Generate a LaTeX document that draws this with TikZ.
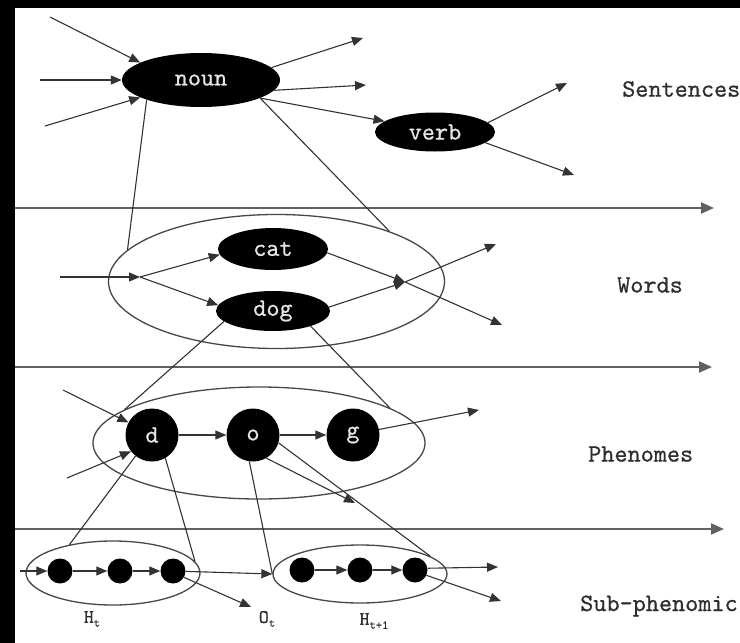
\documentclass[tikz,border=0pt]{standalone}
\usepackage{fontspec}
\usetikzlibrary{shapes.geometric,arrows.meta}
\newfontfamily\mono{lmmono10-regular.otf}[FakeBold=0.7]
\begin{document}
\begin{tikzpicture}[x=1pt,y=-1pt,
 blob/.style={ellipse, fill=black, text=white!90!black, font=\mono\fontsize{25}{25}\selectfont, inner sep=0pt},
 phon/.style={circle, fill=black, text=white!90!black, font=\mono\fontsize{25}{25}\selectfont, minimum size=53pt, inner sep=0pt},
 dotn/.style={circle, fill=black, minimum size=25pt, inner sep=0pt},
 grp/.style={ellipse, draw=black!72, line width=1.3pt, inner sep=0pt},
 conn/.style={draw=black!80, line width=1.1pt},
 arr/.style={conn, -{Triangle[length=11pt,width=9pt]}},
 axisln/.style={draw=black!62, line width=2.2pt, -{Triangle[length=13pt,width=11pt]}},
 lvl/.style={font=\mono\fontsize{25}{25}\selectfont, text=black!82, anchor=west, inner sep=0pt},
 sublbl/.style={font=\mono\fontsize{19}{19}\selectfont, text=black!82, inner sep=0pt},
]
\useasboundingbox (0,0) rectangle (740,643);
\fill[white] (0,0) rectangle (740,643);

% axes
\coordinate (ax1s) at (15,208); \coordinate (ax1e) at (714,208);
\coordinate (ax2s) at (15,367); \coordinate (ax2e) at (712,367);
\coordinate (ax3s) at (15,529); \coordinate (ax3e) at (724,529);
\draw[axisln] (ax1s) -- (ax1e);
\draw[axisln] (ax2s) -- (ax2e);
\draw[axisln] (ax3s) -- (ax3e);

% group ellipses
\node[grp, minimum width=336pt, minimum height=134pt] (words) at (276.5,281.5) {};
\node[grp, minimum width=332pt, minimum height=112pt] (phen) at (259,443) {};
\node[grp, minimum width=174pt, minimum height=64pt] (Ha) at (113,573) {};
\node[grp, minimum width=174pt, minimum height=58pt] (Hb) at (360,574) {};

% sentence level
\node[blob, minimum width=158pt, minimum height=54pt] (noun) at (201,80) {noun};
\node[blob, minimum width=120pt, minimum height=39pt] (verb) at (435,132) {verb};
% word level
\node[blob, minimum width=110pt, minimum height=42pt] (cat) at (273,249) {cat};
\node[blob, minimum width=114pt, minimum height=40pt] (dog) at (273,311) {dog};
% phenome level
\node[phon] (d) at (152,435) {d};
\node[phon] (o) at (253,435) {o};
\node[phon] (g) at (353,435) {g};
% sub-phenomic
\node[dotn] (a1) at (60,571) {};
\node[dotn] (a2) at (120,571) {};
\node[dotn] (a3) at (173,571) {};
\node[dotn] (b1) at (302,570) {};
\node[dotn] (b2) at (360,570) {};
\node[dotn] (b3) at (415,570) {};

% level labels
\node[lvl] (lsent) at (622,89) {Sentences};
\node[lvl] (lword) at (617,285) {Words};
\node[lvl] (lphen) at (588,454) {Phenomes};
\node[lvl] (lsub) at (580,606) {Sub-phenomic};
\node[sublbl] (lHa) at (92,619) {H\raisebox{-4pt}{\fontsize{12}{12}\selectfont t}};
\node[sublbl] (lOt) at (267,619) {O\raisebox{-4pt}{\fontsize{12}{12}\selectfont t}};
\node[sublbl] (lHb) at (374,621) {H\raisebox{-4pt}{\fontsize{12}{12}\selectfont t+1}};

% free ends
\coordinate (nin1) at (50,17);
\coordinate (nin2) at (40,80);
\coordinate (nin3) at (45,126);
\coordinate (nout1) at (363,38);
\coordinate (nout2) at (366,85);
\coordinate (vout1) at (567,83);
\coordinate (vout2) at (574,175);
\coordinate (win) at (60,277);
\coordinate (wj) at (140,277);
\coordinate (wj2) at (405,282);
\coordinate (wout1) at (496,244);
\coordinate (wout2) at (502,325);
\coordinate (pin1) at (63,390);
\coordinate (pin2) at (67,478);
\coordinate (pout) at (479,410);
\coordinate (oend) at (355,503);
\coordinate (hin) at (20,571);
\coordinate (otip) at (251,607);
\coordinate (bo1) at (498,567);
\coordinate (bo2) at (501,601);

% sentence connectors
\draw[arr] (nin1) -- (noun.164);
\draw[arr] (nin2) -- (noun.180);
\draw[arr] (nin3) -- (noun.196);
\draw[arr] (noun.10) -- (nout1);
\draw[arr] (noun.352) -- (nout2);
\draw[arr] (noun.343) -- (verb.168);
\draw[arr] (verb.10) -- (vout1);
\draw[arr] (verb.348) -- (vout2);
\draw[conn] (noun.200) -- (words.168);
\draw[conn] (noun.343) -- (words.24);

% word connectors
\draw[arr] (win) -- (wj);
\draw[arr] (wj) -- (cat.186);
\draw[arr] (wj) -- (dog.174);
\draw[arr] (cat.356) -- (wj2);
\draw[arr] (dog.4) -- (wj2);
\draw[arr] (wj2) -- (wout1);
\draw[arr] (wj2) -- (wout2);
\draw[conn] (dog.192) -- (phen.166);
\draw[conn] (dog.338) -- (phen.15);

% phenome connectors
\draw[arr] (pin1) -- (d.152);
\draw[arr] (pin2) -- (d.218);
\draw[arr] (d) -- (o);
\draw[arr] (o) -- (g);
\draw[arr] (g.12) -- (pout);
\draw[arr] (o.300) -- (oend);
\draw[conn] (o.343) -- (Hb.14);
\draw[conn] (o.262) -- (Hb.180);
\draw[conn] (d.300) -- (Ha.8);
\draw[conn] (d.232) -- (Ha.147);

% sub-phenomic connectors
\draw[arr] (hin) -- (a1);
\draw[arr] (a1) -- (a2);
\draw[arr] (a2) -- (a3);
\draw[arr] (a3) -- (Hb.west);
\draw[arr] (a3.330) -- (otip);
\draw[arr] (b1) -- (b2);
\draw[arr] (b2) -- (b3);
\draw[arr] (b3.8) -- (bo1);
\draw[arr] (b3.335) -- (bo2);

% black frame
\fill[black] (0,0) rectangle (740,8);
\fill[black] (0,0) rectangle (15,643);
\end{tikzpicture}
\end{document}
